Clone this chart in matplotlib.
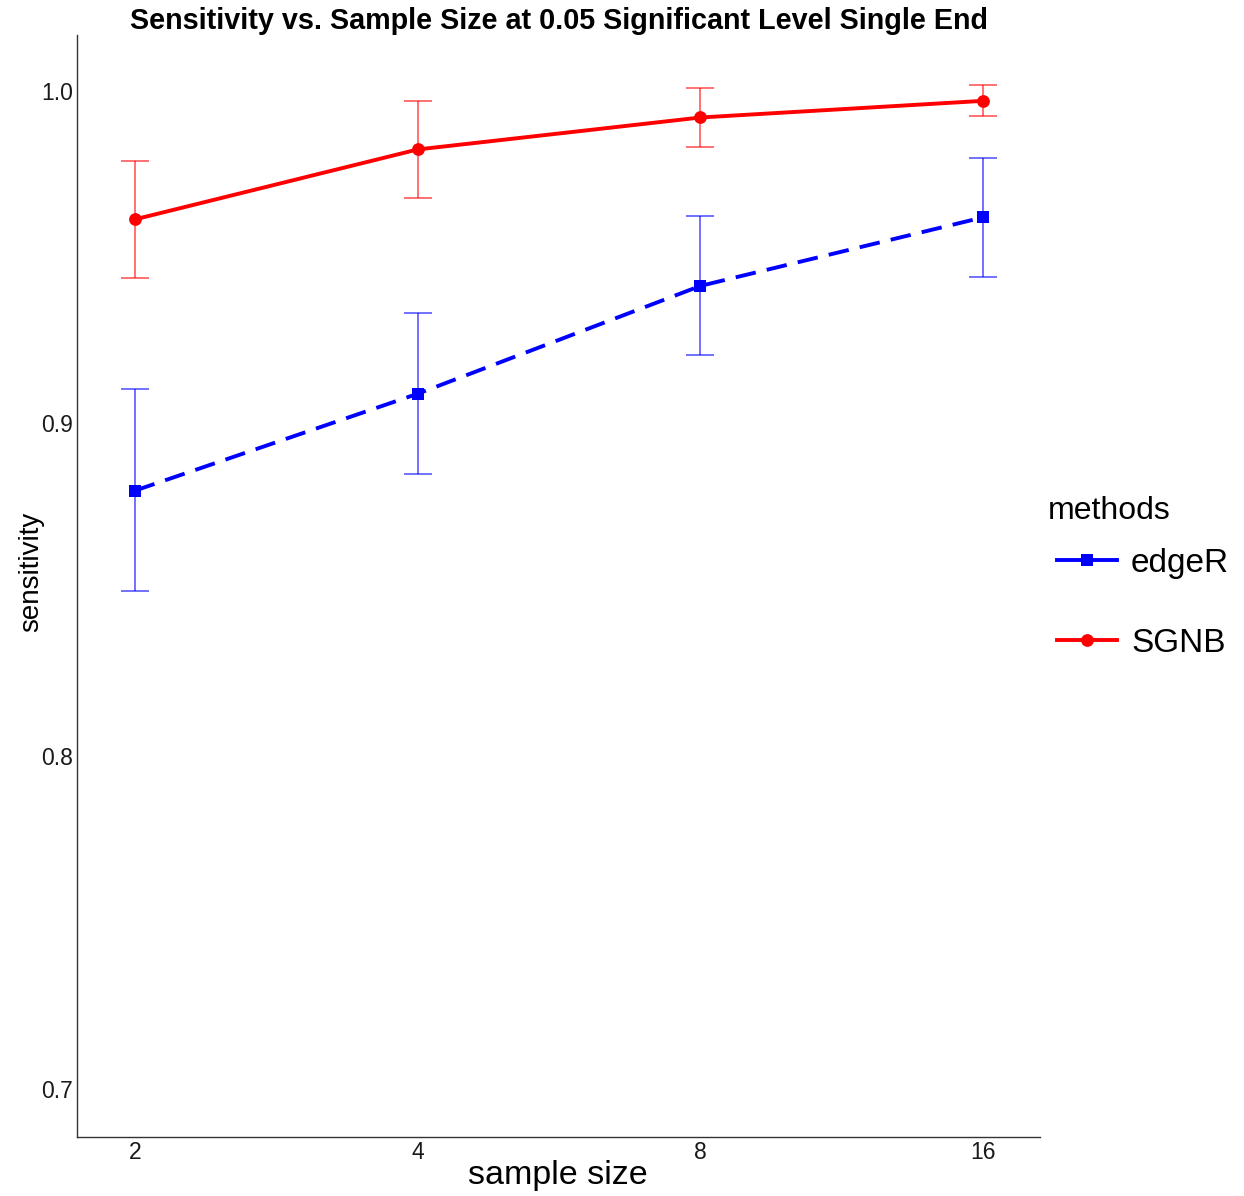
import matplotlib
matplotlib.use("Agg")
import matplotlib.pyplot as plt
from matplotlib.lines import Line2D
import numpy as np

plt.rcParams['font.family'] = ['Liberation Sans', 'DejaVu Sans']

# Sample sizes shown as discrete categories
sample_sizes = ["2", "4", "8", "16"]

# Mean sensitivity with lower / upper error limits per method
sgnb_mean = [0.9613, 0.9823, 0.9919, 0.9969]
sgnb_low = [0.9438, 0.9677, 0.9829, 0.9923]
sgnb_high = [0.9787, 0.9970, 1.0008, 1.0017]

edger_mean = [0.8798, 0.9089, 0.9413, 0.9619]
edger_low = [0.8495, 0.8847, 0.9204, 0.9441]
edger_high = [0.9103, 0.9332, 0.9623, 0.9796]

y_ticks = [0.7, 0.8, 0.9, 1.0]

RED = "#FF0000"
BLUE = "#0000FF"

fig = plt.figure(figsize=(12.44, 11.96), dpi=100)
ax = fig.add_axes([0.0619, 0.0493, 0.7742, 0.9214])

x = np.arange(len(sample_sizes))


def draw_series(mean, low, high, color, marker, ms, ls):
    mean = np.asarray(mean)
    yerr = np.vstack([mean - np.asarray(low), np.asarray(high) - mean])
    ax.errorbar(x, mean, yerr=yerr, fmt="none", ecolor=color, alpha=0.6,
                elinewidth=1.3, capsize=10, capthick=1.3, zorder=2)
    ax.plot(x, mean, color=color, lw=2.8, linestyle=ls, zorder=3)
    ax.plot(x, mean, linestyle="none", marker=marker, ms=ms, color=color,
            markeredgewidth=0, zorder=4)


draw_series(edger_mean, edger_low, edger_high, BLUE, "s", 8.8, (0, (5.3, 2.9)))
draw_series(sgnb_mean, sgnb_low, sgnb_high, RED, "o", 9.2, "-")

ax.set_xlim(-0.205, 3.2016)
ax.set_ylim(0.6856, 1.01667)
ax.set_xticks(x)
ax.set_xticklabels(sample_sizes)
ax.set_yticks(y_ticks)
ax.set_yticklabels([f"{v:.1f}" for v in y_ticks])
ax.tick_params(axis="both", length=0, labelsize=16.5, colors="#1a1a1a")
ax.tick_params(axis="y", pad=3)
ax.tick_params(axis="x", pad=3)

for side in ("top", "right"):
    ax.spines[side].set_visible(False)
for side in ("left", "bottom"):
    ax.spines[side].set_color("#333333")
    ax.spines[side].set_linewidth(1.0)

ax.set_xlabel("sample size", fontsize=24.5, va="center")
ax.xaxis.set_label_coords(0.4995, -0.0352)
ax.set_ylabel("sensitivity", fontsize=20, va="center", ha="center")
ax.yaxis.set_label_coords(-0.0478, 0.5127)
ax.set_title("Sensitivity vs. Sample Size at 0.05 Significant Level Single End",
             fontsize=20.7, fontweight="bold", pad=-2)

handles = [
    Line2D([], [], color=BLUE, lw=2.8, marker="s", ms=8.8, markeredgewidth=0),
    Line2D([], [], color=RED, lw=2.8, marker="o", ms=9.2, markeredgewidth=0),
]
leg = fig.legend(handles, ["edgeR", "SGNB"], title="methods",
                 loc="center left", bbox_to_anchor=(0.8424, 0.5135),
                 frameon=False, fontsize=24, title_fontsize=23,
                 handlelength=1.8, handletextpad=0.42, labelspacing=1.47,
                 borderaxespad=0, borderpad=0)
leg._legend_box.align = "left"
# indent the keys under the title and set the title gap
leg._legend_handle_box.pad = 6.5
leg._legend_box.sep = 9.5

fig.savefig("out.png", dpi=100, facecolor="white")
